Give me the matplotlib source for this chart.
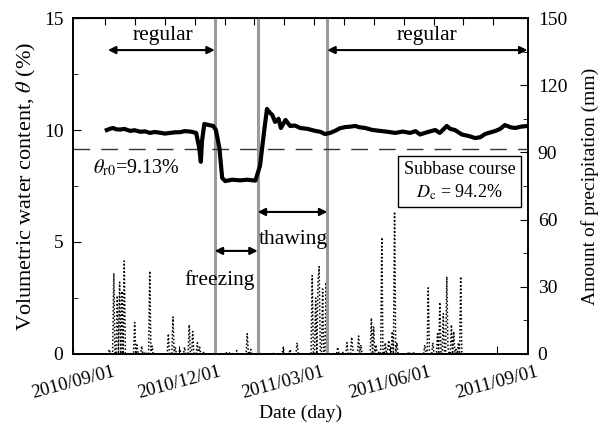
import numpy as np
import pandas as pd
import matplotlib
matplotlib.use('Agg')
import matplotlib.pyplot as plt
from matplotlib.transforms import ScaledTranslation

plt.rcParams['font.family'] = ['Liberation Serif', 'DejaVu Serif']
plt.rcParams['mathtext.fontset'] = 'stix'

# day 0 = 2010/09/01
start = pd.Timestamp('2010-09-01')

# volumetric water content (%)
wc_day = [29, 32, 34.5, 37, 40.5, 44, 49, 53, 57.8, 62, 66, 70, 75, 79, 83.6, 88, 92, 96, 101,
          106, 108.6, 110, 111, 113, 117, 120.7, 123, 126, 128.4, 131, 137, 144, 150, 157,
          158.6, 161, 164.7, 167, 169, 171.6, 174, 177, 179, 183, 187, 191, 195.7, 202,
          208.6, 213, 217, 221.5, 226, 230, 234.5, 239, 243, 247, 251.7, 258, 264.7, 271,
          277.6, 284, 290.5, 295, 299, 305, 312, 316, 322, 325, 329, 335, 341, 346.5, 351,
          355, 360, 364, 368, 372, 377, 381, 386, 391]
wc_val = [10.0, 10.06, 10.09, 10.03, 10.02, 10.05, 9.96, 9.99, 9.92, 9.94, 9.87, 9.91, 9.88,
          9.84, 9.87, 9.9, 9.9, 9.95, 9.93, 9.87, 9.2, 8.58, 9.5, 10.27, 10.22, 10.18, 10.0,
          9.2, 7.86, 7.72, 7.78, 7.75, 7.78, 7.74, 8.0, 8.4, 10.0, 10.94, 10.8, 10.67, 10.36,
          10.5, 10.09, 10.45, 10.18, 10.2, 10.09, 10.05, 9.96, 9.92, 9.82, 9.87, 9.97, 10.08,
          10.13, 10.15, 10.18, 10.12, 10.09, 10.0, 9.96, 9.92, 9.87, 9.93, 9.87, 9.95, 9.8,
          9.9, 10.0, 9.87, 10.18, 10.05, 10.0, 9.8, 9.73, 9.64, 9.68, 9.82, 9.9, 9.96, 10.05,
          10.22, 10.12, 10.09, 10.15, 10.18]

# daily precipitation (mm), only the days with rain
rain_day = [31, 35, 38, 40, 42, 44, 53, 55, 59, 62, 66, 68, 82, 86, 88, 92, 96, 100, 103,
            107, 109, 112, 116, 128, 132, 135, 138, 141, 150, 153, 160, 172, 181, 187, 193,
            206, 209, 211, 212, 215, 218, 228, 232, 236, 240, 241, 246, 248, 257, 259, 261,
            263, 266, 269, 271, 272, 275, 277, 279, 289, 293, 303, 306, 310, 314, 316, 319,
            322, 323, 326, 328, 330, 332, 334]
rain_mm = [2, 36, 26, 32, 28, 41.5, 14, 4, 3.5, 1, 37, 3.5, 9, 16.5, 3, 2, 3, 13, 10, 5, 3,
           1, 0.5, 0.5, 0.5, 0.5, 0.5, 1.5, 9, 2, 1, 0.5, 3, 2, 5, 35, 25, 32, 39, 29, 32, 3,
           1, 5, 7.5, 2, 8, 4, 16, 12, 4, 1, 52, 5, 2, 6, 10, 63.5, 5, 1, 1, 4, 29.5, 5, 9,
           23, 18, 34.5, 3, 13, 10, 2, 5, 34.5]

# phase boundaries
freeze_start = pd.Timestamp('2011-01-01')
thaw_start = pd.Timestamp('2011-02-07')
thaw_end = pd.Timestamp('2011-04-08')
theta_r0 = 9.13

bottom_ticks = ['2010/09/01', '2010/12/01', '2011/03/01', '2011/06/01', '2011/09/01']


def day(d):
    return (pd.Timestamp(d) - start).days


rain = pd.Series(rain_mm, index=rain_day).reindex(range(29, 336), fill_value=0)

fig = plt.figure(figsize=(6, 4.3), dpi=100)
ax = fig.add_axes([0.122, 0.177, 0.758, 0.781])
ax2 = ax.twinx()

ax2.plot(rain.index, rain.values, color='k', lw=1.1, ls=(0, (1, 1.4)), zorder=1)
ax2.set_ylim(0, 150)
ax2.set_yticks(np.arange(0, 151, 30))
ax2.set_yticks(np.arange(0, 151, 15), minor=True)
ax2.set_ylabel('Amount of precipitation (mm)', fontsize=14, labelpad=10)

ax.set_zorder(ax2.get_zorder() + 1)
ax.patch.set_visible(False)

for d in [freeze_start, thaw_start, thaw_end]:
    ax.axvline(day(d), color='#9a9a9a', lw=2.2, zorder=1)
ax.axhline(theta_r0, color='#333333', lw=1, ls=(0, (12, 8)), zorder=1)
ax.plot(wc_day, wc_val, color='k', lw=3, zorder=3, solid_joinstyle='round')

ax.set_xlim(0, 392)
ax.set_ylim(0, 15)
ax.set_yticks([0, 5, 10, 15])
ax.set_yticks(np.arange(0, 15.1, 2.5), minor=True)
ax.set_xticks([day(t) for t in bottom_ticks])
ax.set_xticklabels(bottom_ticks, rotation=15, ha='center')
shift = ScaledTranslation(-10 / 100, 0, fig.dpi_scale_trans)
for lab in ax.get_xticklabels():
    lab.set_transform(lab.get_transform() + shift)
ax.set_ylabel(r'Volumetric water content, $\theta$ (%)', fontsize=16, labelpad=4)
ax.set_xlabel('Date (day)', fontsize=14, labelpad=2)

top = ax.secondary_xaxis('top')
top.set_xticks(np.linspace(27.6, 362, 14))
top.tick_params(direction='in', length=5, labeltop=False)

for a in (ax, ax2):
    a.tick_params(direction='in', which='major', length=6, labelsize=14, pad=7)
    a.tick_params(direction='in', which='minor', length=3.5)
    for s in a.spines.values():
        s.set_linewidth(1.2)
ax.tick_params(axis='x', labelsize=13.5, pad=7)

arrow = dict(arrowstyle='<|-|>', color='k', lw=1.5, shrinkA=0, shrinkB=0, mutation_scale=11)
ax.annotate('', xy=(day(freeze_start), 13.57), xytext=(30, 13.57), arrowprops=arrow)
ax.text(77, 14.2, 'regular', ha='center', va='center', fontsize=15.5)
ax.annotate('', xy=(391.5, 13.57), xytext=(day(thaw_end), 13.57), arrowprops=arrow)
ax.text(305, 14.2, 'regular', ha='center', va='center', fontsize=15.5)
ax.annotate('', xy=(day(thaw_start), 4.6), xytext=(day(freeze_start), 4.6), arrowprops=arrow)
ax.text(126, 3.3, 'freezing', ha='center', va='center', fontsize=15.5)
ax.annotate('', xy=(day(thaw_end), 6.34), xytext=(day(thaw_start), 6.34), arrowprops=arrow)
ax.text(190, 5.13, 'thawing', ha='center', va='center', fontsize=15.5)
ax.text(17, 8.3, r'$\theta_{\rm r0}$=9.13%', ha='left', va='center', fontsize=14.5)
ax.text(333, 7.7, 'Subbase course\n$D_{\\rm c}$ = 94.2%', ha='center', va='center',
        fontsize=13, linespacing=1.25,
        bbox=dict(boxstyle='square,pad=0.3', fc='white', ec='k', lw=1))

fig.savefig('out.png', dpi=100)
